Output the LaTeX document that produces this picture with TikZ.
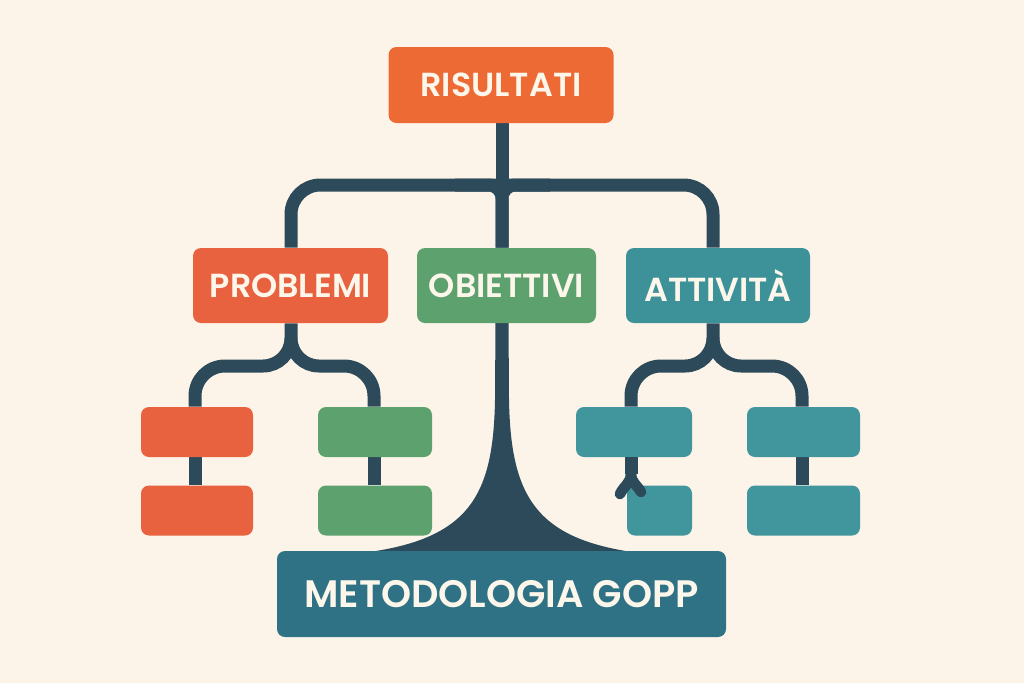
\documentclass[tikz,border=0pt]{standalone}
\usepackage{fontspec}
\setmainfont{Poppins}
\newfontfamily\popsb{Poppins SemiBold}
\definecolor{bgc}{HTML}{FCF4E9}
\definecolor{orangec}{HTML}{EE6A35}
\definecolor{redc}{HTML}{E8623F}
\definecolor{greenc}{HTML}{5DA16F}
\definecolor{tealc}{HTML}{3D9199}
\definecolor{teals}{HTML}{41959C}
\definecolor{darkc}{HTML}{2D4A5B}
\definecolor{metoc}{HTML}{2F7285}
\definecolor{txtc}{HTML}{FDF6EA}
\pgfdeclarelayer{bglayer}
\pgfdeclarelayer{lines}
\pgfsetlayers{bglayer,lines,main}
\begin{document}
\begin{tikzpicture}[x=0.75pt,y=-0.75pt,
  box/.style={rounded corners=6pt, inner sep=0pt, text=txtc, font=\popsb\fontsize{25}{28}\selectfont},
  bigbox/.style={box, minimum height=56.25pt},
  small/.style={rounded corners=6pt, inner sep=0pt, minimum height=37.5pt},
  conn/.style={draw=darkc, line width=9.75pt}]
\begin{pgfonlayer}{bglayer}
\fill[bgc] (0,0) rectangle (1024,683);
\end{pgfonlayer}
\useasboundingbox (0,0) rectangle (1024,683);
% helper coordinates
\coordinate (xl) at (291,0);
\coordinate (xr) at (713,0);
\coordinate (ybar) at (0,185);
\coordinate (fl) at (455,185);
\coordinate (fr) at (550,185);
\coordinate (c1) at (195,0);
\coordinate (c2) at (374,0);
\coordinate (c3) at (631,0);
\coordinate (c4) at (802,0);
% nodes
\node[box, fill=orangec, minimum width=168.75pt, minimum height=57pt] (res) at (501,85) {RISULTATI};
\node[bigbox, fill=redc, minimum width=146.25pt] (prob) at (290.5,285.5) {PROBLEMI};
\node[bigbox, fill=greenc, minimum width=134.25pt] (obi) at (506.5,285.5) {OBIETTIVI};
\node[bigbox, fill=tealc, minimum width=138pt] (att) at (718,285.5) {ATTIVITÀ};
\node[small, fill=redc, minimum width=84pt] (r1) at (197,432) {};
\node[small, fill=redc, minimum width=84pt] (r2) at (197,510.5) {};
\node[small, fill=greenc, minimum width=85.5pt] (g1) at (375,432) {};
\node[small, fill=greenc, minimum width=85.5pt] (g2) at (375,510.5) {};
\node[small, fill=teals, minimum width=87pt] (t1) at (634,432) {};
\node[small, fill=teals, minimum width=48.75pt] (t2) at (659.5,510.5) {};
\node[small, fill=teals, minimum width=84.75pt] (t3) at (803.5,432) {};
\node[small, fill=teals, minimum width=84.75pt] (t4) at (803.5,510.5) {};
\node[box, fill=metoc, minimum width=336.75pt, minimum height=64.5pt, font=\popsb\fontsize{28.7}{32}\selectfont] (met) at (501.5,594) {METODOLOGIA GOPP};
% connectors behind the boxes
\begin{pgfonlayer}{lines}
\coordinate (stem) at (502,0);
\draw[conn] (res.south -| stem) -- (stem |- ybar);
\draw[conn, rounded corners=22pt] (prob.north -| xl) |- (stem |- ybar) -| (att.north -| xr);
\draw[conn, rounded corners=10pt] (fl) -| (obi.north -| stem);
\draw[conn, rounded corners=10pt] (fr) -| (obi.north -| stem);
% flared stem to the base
\fill[darkc] (495.5,318) -- (495,400) .. controls (493,505) and (465,547) .. (330,556)
  -- (670,556) .. controls (540,547) and (511,505) .. (509,400) -- (508.5,318) -- cycle;
% left subtree
\draw[conn] (prob.south -| xl) -- (291,338) to[out=-90,in=0] (263,366) -- (225,366)
  to[out=180,in=90] (195,396) -- (r1.north -| c1);
\draw[conn] (291,338) to[out=-90,in=180] (319,366) -- (344,366)
  to[out=0,in=90] (374,396) -- (g1.north -| c2);
% right subtree
\draw[conn] (att.south -| xr) -- (713,338) to[out=-90,in=0] (685,366) -- (661,366)
  to[out=180,in=90] (631,396) -- (t1.north -| c3);
\draw[conn] (713,338) to[out=-90,in=180] (741,366) -- (772,366)
  to[out=0,in=90] (802,396) -- (t3.north -| c4);
% lower links
\draw[conn] (r1.south -| c1) -- (r2.north -| c1);
\draw[conn] (g1.south -| c2) -- (g2.north -| c2);
\draw[conn] (t3.south -| c4) -- (t4.north -| c4);
\end{pgfonlayer}
% forked link drawn over the small box
\coordinate (fork) at (631,474);
\draw[conn] (t1.south -| c3) -- (fork);
\draw[conn, line width=8pt, line cap=round] (fork) to[out=-90,in=65] (620,494);
\draw[conn, line width=8pt, line cap=round] (fork) to[out=-90,in=120] (641,492);
\end{tikzpicture}
\end{document}
